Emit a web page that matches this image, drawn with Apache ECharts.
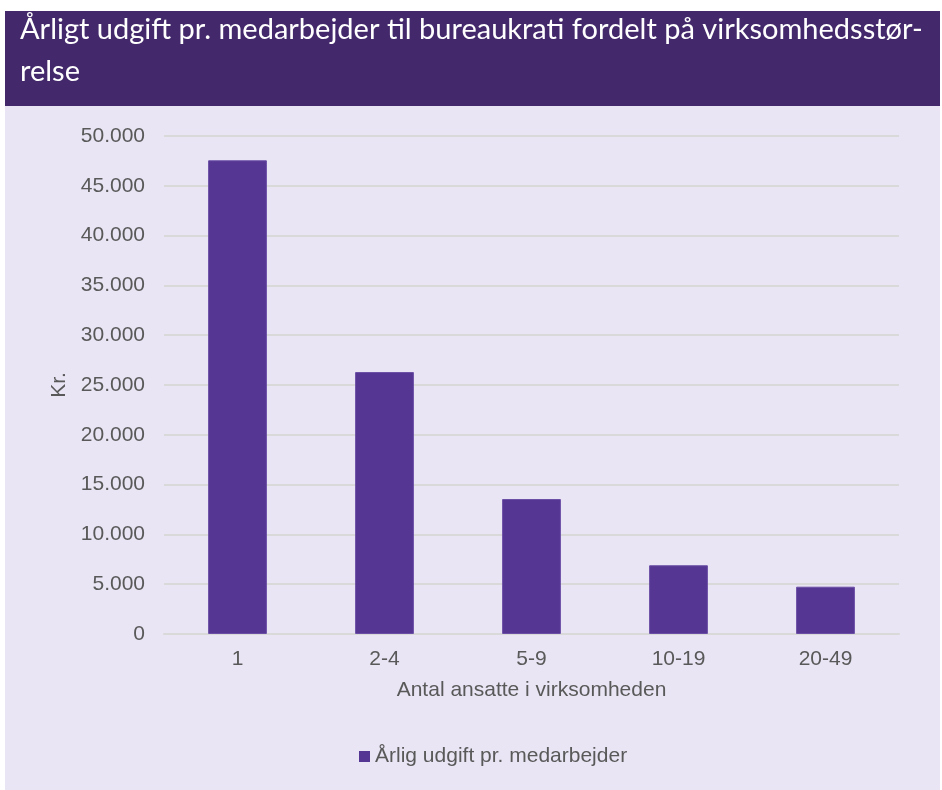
<!DOCTYPE html>
<html>
<head>
<meta charset="utf-8">
<script src="https://cdn.jsdelivr.net/npm/echarts@6/dist/echarts.min.js"></script>
<style>
  html, body { margin: 0; padding: 0; background: #fff; }
  #chart { width: 942px; height: 790px; }
</style>
</head>
<body>
<div id="chart"></div>
<script>
// data
const categories = ['1', '2-4', '5-9', '10-19', '20-49']
const udgift = [47560, 26300, 13550, 6900, 4750]
const seriesName = 'Årlig udgift pr. medarbejder'
const titleText = 'Årligt udgift pr. medarbejder til bureaukrati fordelt på virksomhedsstør-\nrelse'

const chart = echarts.init(document.getElementById('chart'))

// 1.234 style thousands separator
const fmt = v => String(v).replace(/\B(?=(\d{3})+(?!\d))/g, '.')

const option = {
  backgroundColor: '#ffffff',
  textStyle: { fontFamily: 'Liberation Sans, Arial, sans-serif' },
  graphic: [
    { type: 'rect', shape: { x: 5, y: 106, width: 935, height: 684 }, style: { fill: '#e9e5f4' }, z: -10 },
    { type: 'rect', shape: { x: 5, y: 11, width: 935, height: 95 }, style: { fill: '#43296b' }, z: -10 }
  ],
  title: {
    text: titleText,
    left: 20,
    top: 9,
    padding: 0,
    textStyle: {
      color: '#ffffff',
      fontFamily: 'Lato, "Open Sans", sans-serif',
      fontWeight: 'normal',
      fontSize: 29,
      lineHeight: 42
    }
  },
  legend: {
    data: [seriesName],
    left: 359,
    top: 746,
    padding: 0,
    icon: 'rect',
    itemWidth: 11,
    itemHeight: 11,
    itemGap: 5,
    itemStyle: { borderWidth: 0 },
    textStyle: { color: '#595959', fontSize: 21 }
  },
  grid: {
    left: 164,
    right: 43,
    top: 136,
    bottom: 156
  },
  xAxis: {
    type: 'category',
    data: categories,
    name: 'Antal ansatte i virksomheden',
    nameLocation: 'middle',
    nameGap: 46,
    nameTextStyle: { color: '#595959', fontSize: 21 },
    axisLine: { lineStyle: { color: '#d9d9d9', width: 2 } },
    axisTick: { show: false },
    axisLabel: { color: '#595959', fontSize: 21, margin: 15 }
  },
  yAxis: {
    type: 'value',
    min: 0,
    max: 50000,
    interval: 5000,
    name: 'Kr.',
    nameLocation: 'middle',
    nameRotate: 90,
    nameGap: 88,
    nameTextStyle: { color: '#595959', fontSize: 21 },
    axisLine: { show: false },
    axisTick: { show: false },
    axisLabel: { color: '#595959', fontSize: 21, margin: 19, formatter: fmt },
    splitLine: { lineStyle: { color: '#d9d9d9', width: 2 } }
  },
  series: [
    {
      name: seriesName,
      type: 'bar',
      data: udgift,
      barWidth: '40%',
      itemStyle: { color: '#553692', borderColor: '#6a4ea6', borderWidth: 1 }
    }
  ]
}

chart.setOption(option)
</script>
</body>
</html>
